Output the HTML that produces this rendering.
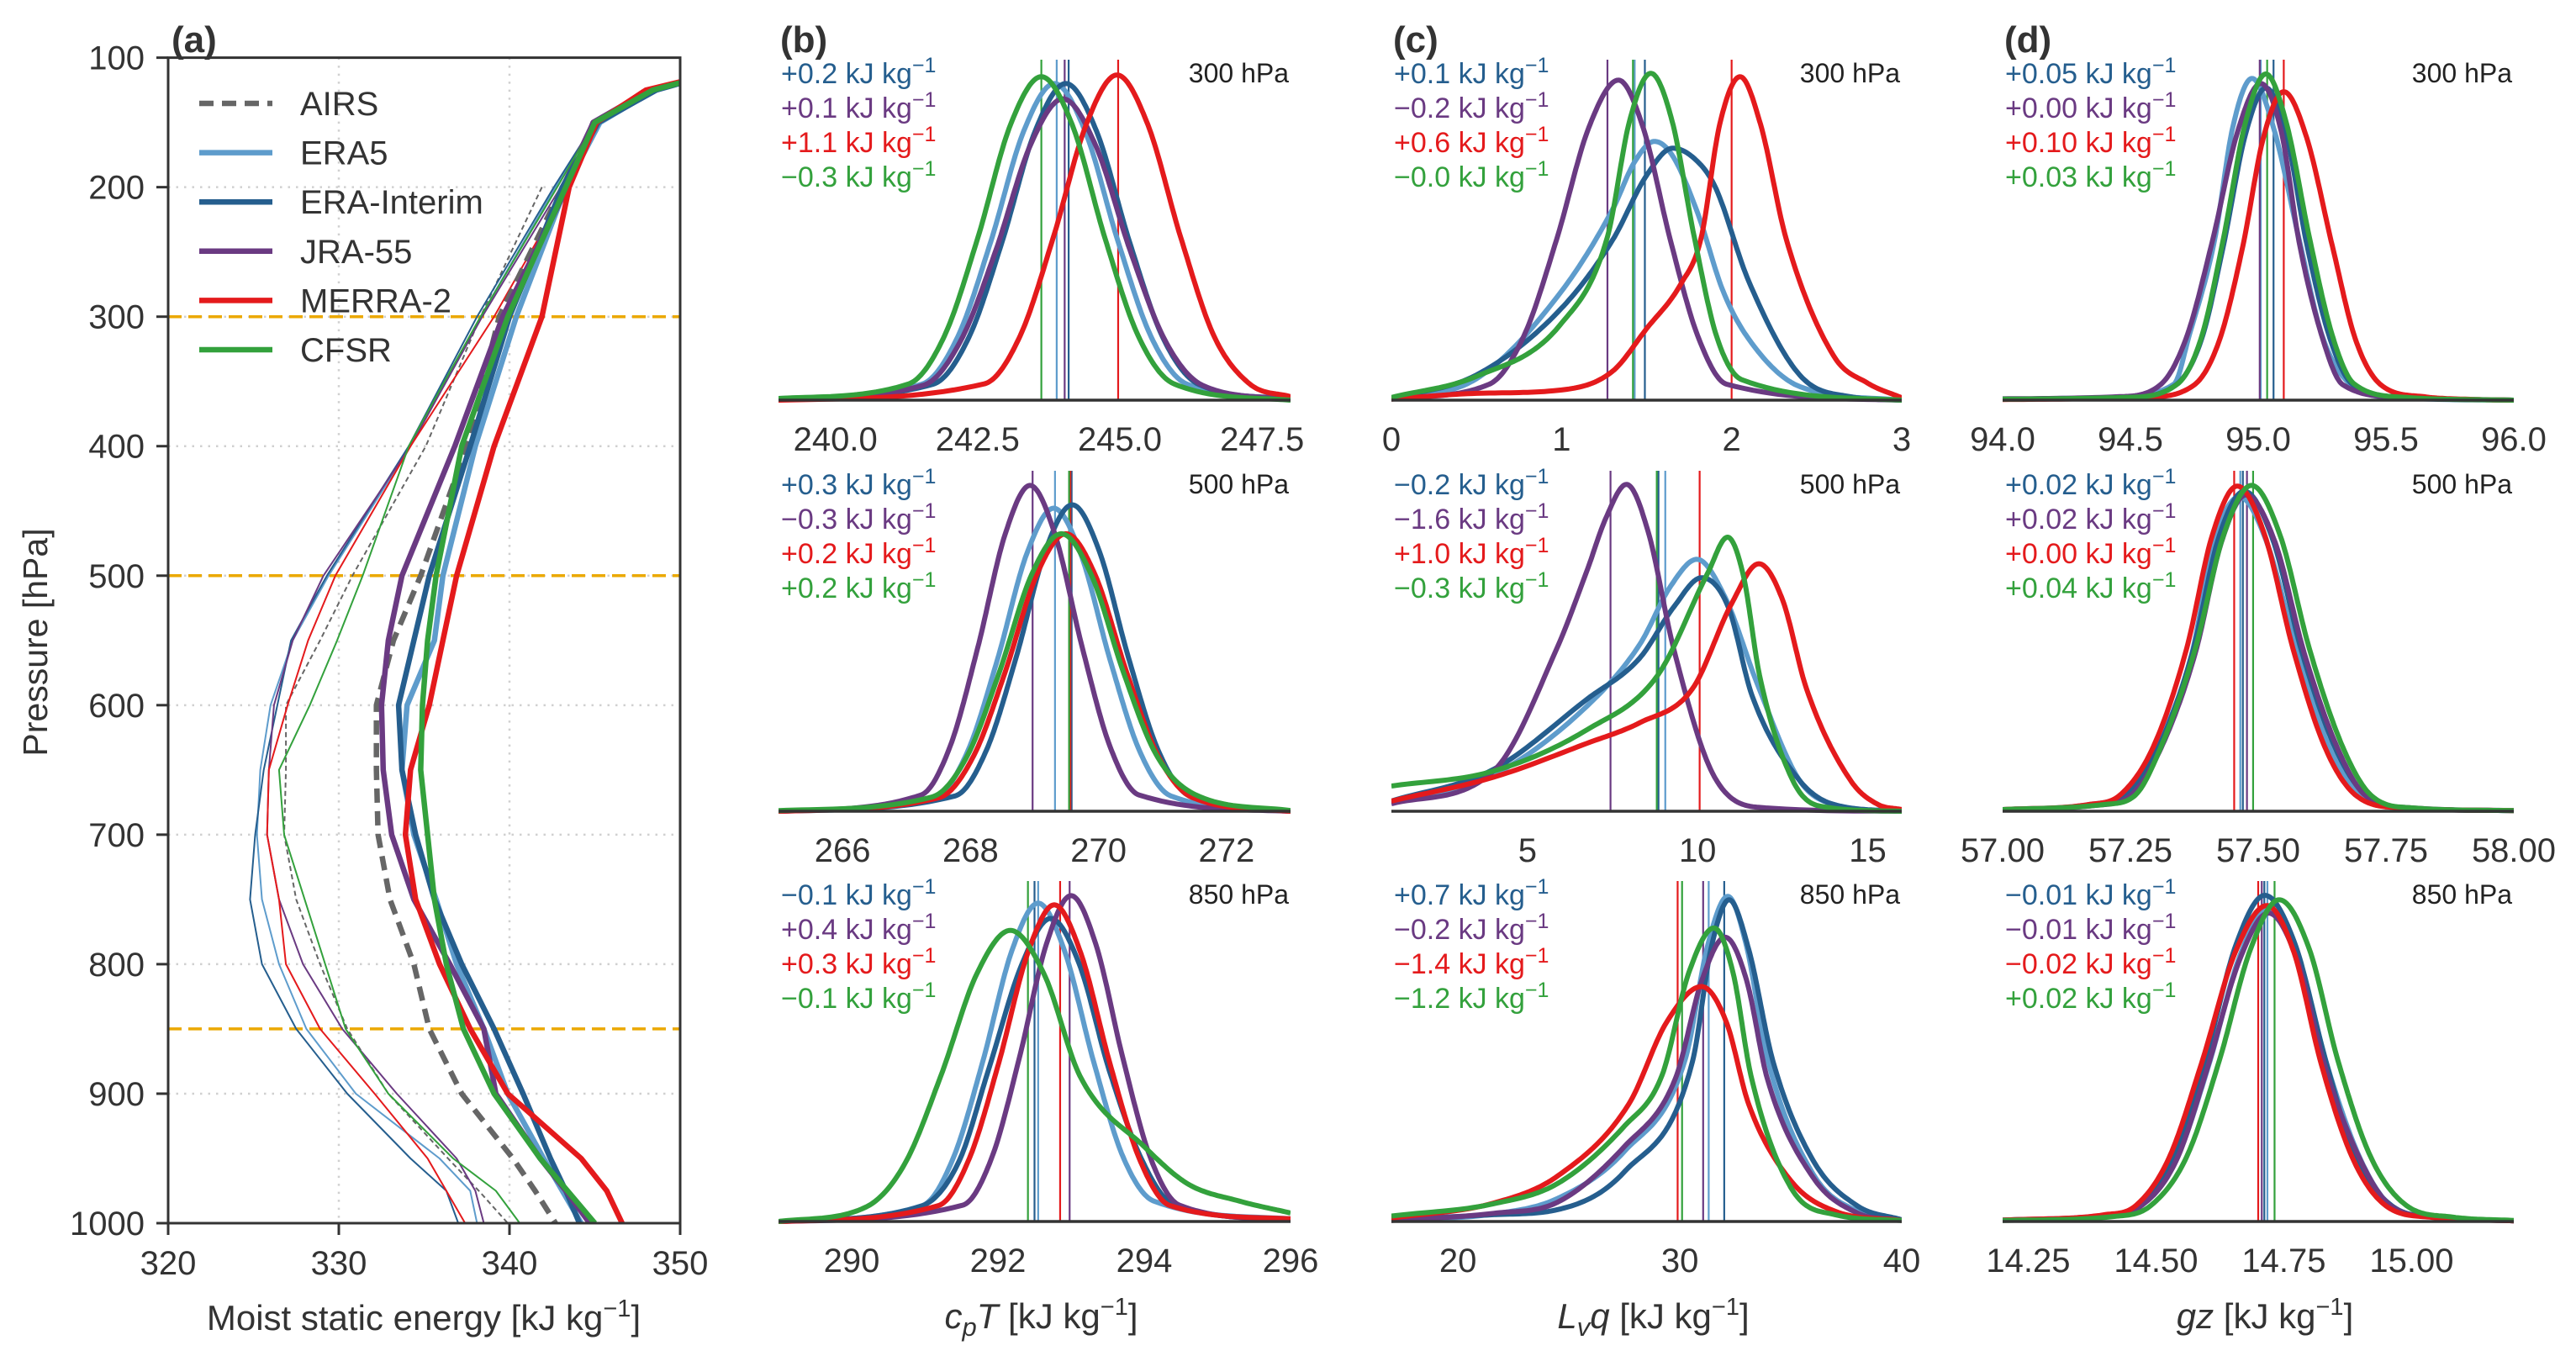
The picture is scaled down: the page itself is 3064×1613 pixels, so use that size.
<!DOCTYPE html>
<html><head><meta charset="utf-8">
<style>
html,body{margin:0;padding:0;background:#fff;}
svg{display:block;font-family:"Liberation Sans",Arial,sans-serif;}
</style></head>
<body>
<svg id="fig" xmlns="http://www.w3.org/2000/svg" width="3064" height="1613" viewBox="0 0 3064 1613"></svg>
<script>
// ---------- shared series info ----------
const seriesNames = ['ERA5','ERA-Interim','JRA-55','MERRA-2','CFSR'];
const seriesColors = ['#5e9ccc','#255e8e','#6a3a82','#e41a1c','#33a13c'];

// ---------- panel (a) data ----------
const levelsA = [118,125,150,200,300,400,500,550,600,650,700,750,800,850,900,950,975,1000];
const thickEra5  = [350.4,348.5,345.3,343.3,340.4,338.0,336.1,335.6,334.0,333.7,334.4,335.7,336.9,338.5,339.9,342.0,343.1,344.2];
const thickEraI  = [350.5,348.6,345.2,343.1,340.0,337.7,335.3,334.4,333.5,333.7,334.5,335.6,337.2,339.1,340.8,342.4,343.3,344.1];
const thickJra   = [350.3,348.2,344.9,343.4,339.6,336.8,333.7,332.9,332.5,332.6,333.1,334.4,336.5,338.5,339.2,341.8,343.3,344.7];
const thickMerra = [350.2,348.0,345.1,343.5,341.9,339.1,336.9,336.1,335.3,334.2,333.9,334.5,335.9,337.7,339.9,344.2,345.7,346.6];
const thickCfsr  = [350.4,348.4,345.0,343.3,339.9,337.2,335.7,335.2,334.9,334.8,335.2,335.6,336.3,337.3,339.1,341.8,343.4,345.0];
const thickAirs  = [null,null,null,343.1,339.4,337.5,334.8,333.2,332.2,332.2,332.3,333.0,334.4,335.3,337.2,340.2,341.5,342.7];
const thinEra5   = [350.3,348.3,345.0,342.7,338.3,334.2,329.4,327.3,326.0,325.4,325.2,325.5,326.5,328.1,331.0,335.9,337.7,338.1];
const thinEraI   = [350.4,348.4,345.0,342.6,338.1,334.1,329.3,327.2,326.4,325.6,325.1,324.8,325.5,327.5,330.5,334.2,336.3,337.0];
const thinJra    = [350.2,348.0,344.8,343.0,338.4,334.2,329.1,327.3,326.2,325.9,325.8,326.5,327.9,330.2,333.4,336.9,338.0,338.5];
const thinMerra  = [350.0,347.8,345.0,343.4,339.1,334.2,329.8,328.2,327.0,325.9,325.8,326.5,326.9,328.9,332.1,335.2,336.3,337.4];
const thinCfsr   = [350.3,348.2,345.0,342.8,338.3,334.1,331.4,329.9,328.3,326.5,326.8,328.0,329.2,330.4,332.9,336.7,339.2,340.6];
const thinAirs   = [null,null,null,341.9,338.3,335.1,330.8,328.9,326.9,326.9,326.8,327.5,328.9,330.5,332.9,336.4,338.2,339.9];
const xTicksA = [320,330,340,350];
const yTicksA = [100,200,300,400,500,600,700,800,900,1000];
const refLevelsA = [300,500,850];

// ---------- density panels: x/y points per series [ERA5, ERA-I, JRA-55, MERRA-2, CFSR] ----------
const b300X = [[239,241.52,242.15,242.73,243.31,243.85,244.39,244.97,245.55,246.18,248],[239,241.72,242.35,242.93,243.51,244.05,244.59,245.17,245.75,246.38,248],[239,241.55,242.21,242.82,243.43,244.0,244.57,245.18,245.79,246.45,248],[239,242.62,243.25,243.83,244.41,244.95,245.49,246.07,246.65,247.28,248],[239,241.29,241.92,242.5,243.08,243.62,244.16,244.74,245.32,245.95,248]];
const b300Y = [[0.005,0.047,0.186,0.465,0.79,0.93,0.79,0.465,0.186,0.047,0.005],[0.003,0.047,0.186,0.465,0.79,0.93,0.79,0.465,0.186,0.047,0.003],[0.003,0.044,0.177,0.44,0.75,0.885,0.75,0.44,0.177,0.044,0.003],[0,0.048,0.19,0.478,0.81,0.955,0.81,0.478,0.19,0.048,0.01],[0.005,0.048,0.19,0.475,0.81,0.95,0.81,0.475,0.19,0.048,0]];
const b300Mean = [243.89,244.10,244.03,244.97,243.62];
const b300Lab = ['+0.2','+0.1','+1.1','\u22120.3'];

const b500X = [[265,267.47,267.96,268.42,268.88,269.30,269.72,270.18,270.64,271.13,273],[265,267.76,268.25,268.71,269.17,269.59,270.01,270.47,270.93,271.42,273],[265,267.23,267.68,268.11,268.54,268.93,269.32,269.75,270.18,270.63,273],[265,267.51,268.05,268.54,269.03,269.49,269.95,270.44,270.93,271.47,273],[265,267.4,267.95,268.45,268.95,269.42,269.89,270.39,270.89,271.5,273]];
const b500Y = [[0,0.045,0.178,0.445,0.757,0.89,0.757,0.445,0.178,0.045,0],[0,0.045,0.18,0.45,0.765,0.90,0.765,0.45,0.18,0.045,0],[0,0.048,0.19,0.478,0.813,0.957,0.813,0.478,0.19,0.048,0],[0,0.04,0.163,0.408,0.693,0.815,0.693,0.408,0.163,0.04,0],[0.002,0.042,0.163,0.408,0.693,0.815,0.693,0.408,0.17,0.05,0.002]];
const b500Mean = [269.32,269.58,268.97,269.56,269.54];
const b500Lab = ['+0.3','\u22120.3','+0.2','+0.2'];

const b850X = [[289,290.97,291.39,291.79,292.19,292.55,292.91,293.31,293.71,294.13,296],[289,290.95,291.47,291.87,292.33,292.72,293.11,293.52,293.97,294.4,296],[289,291.52,291.92,292.29,292.66,293.0,293.34,293.71,294.08,294.48,296],[289,291.19,291.61,292.01,292.41,292.77,293.13,293.53,293.93,294.35,296],[289,290.2,290.73,291.22,291.71,292.17,292.63,293.12,294.0,294.6,295.3,296]];
const b850Y = [[0,0.047,0.187,0.468,0.795,0.935,0.795,0.468,0.19,0.06,0.008],[0,0.045,0.178,0.445,0.757,0.89,0.757,0.445,0.18,0.05,0.005],[0,0.048,0.19,0.478,0.813,0.957,0.813,0.478,0.19,0.048,0.005],[0,0.047,0.186,0.465,0.79,0.93,0.79,0.465,0.186,0.047,0.008],[0,0.043,0.171,0.428,0.727,0.855,0.727,0.428,0.22,0.11,0.06,0.025]];
const b850Mean = [292.55,292.50,292.98,292.85,292.41];
const b850Lab = ['\u22120.1','+0.4','+0.3','\u22120.1'];

const c300X = [[0,0.5,1.0,1.3,1.43,1.546,1.65,1.8,1.95,2.1,2.4,3],[0,0.5,1.0,1.3,1.5,1.653,1.78,1.9,2.1,2.4,2.7,3],[0,0.576,0.78,0.97,1.16,1.335,1.48,1.64,1.8,1.97,3],[0,0.5,1.0,1.3,1.5,1.7,1.82,1.93,2.05,2.17,2.32,2.6,2.8,3],[0,0.5,0.99,1.27,1.40,1.525,1.65,1.78,1.91,2.06,3]];
const c300Y = [[0.005,0.063,0.32,0.56,0.7,0.76,0.72,0.55,0.32,0.18,0.04,0],[0.005,0.074,0.27,0.47,0.66,0.74,0.71,0.63,0.35,0.074,0.01,0],[0.005,0.047,0.19,0.47,0.8,0.94,0.8,0.47,0.19,0.047,0],[0.003,0.02,0.03,0.085,0.21,0.34,0.475,0.81,0.95,0.81,0.475,0.13,0.05,0.007],[0.008,0.07,0.22,0.48,0.82,0.96,0.82,0.48,0.19,0.06,0]];
const c300Mean = [1.43,1.49,1.27,2.0,1.42];
const c300Lab = ['+0.1','\u22120.2','+0.6','\u22120.0'];

const c500X = [[1,4,6.76,8.3,9.2,9.98,10.8,11.77,13,14,16],[1,4,6.76,8.3,9.3,10.12,10.9,11.6,13,14,16],[1,4,5.87,6.76,7.3,7.91,8.55,9.29,10.5,12,16],[1,4,6.76,8.3,9.85,11.0,11.8,12.5,13.2,14.5,15.3,16],[1,4,6.76,8.83,10.3,10.88,11.35,11.82,12.8,13.6,16]];
const c500Y = [[0.024,0.107,0.31,0.49,0.66,0.74,0.63,0.37,0.09,0.02,0],[0.03,0.123,0.33,0.45,0.6,0.686,0.6,0.34,0.09,0.02,0],[0.022,0.118,0.48,0.71,0.86,0.96,0.82,0.48,0.1,0.01,0],[0.03,0.10,0.2,0.26,0.36,0.61,0.727,0.62,0.36,0.09,0.02,0.005],[0.074,0.118,0.24,0.40,0.7,0.805,0.69,0.40,0.09,0.015,0]];
const c500Mean = [9.05,8.85,7.44,10.06,8.80];
const c500Lab = ['\u22120.2','\u22121.6','+1.0','\u22120.3'];

const c850X = [[17,21.6,24.5,27.5,30.25,31.25,32.16,33.0,33.95,36,38,40],[17,21.6,24.5,27.5,30.57,31.4,32.22,33.1,34.2,36,38,40],[17,21.6,24.5,27.5,29.8,31.0,32.04,33.0,33.94,36,38,40],[17,21.6,24.5,27.7,29.4,30.98,32.1,33.1,35,37,40],[17,21.6,24.5,27.5,29.2,30.4,31.54,32.4,33.2,35,37,40]];
const c850Y = [[0.004,0.022,0.068,0.206,0.478,0.81,0.955,0.81,0.478,0.14,0.03,0.005],[0.005,0.02,0.035,0.146,0.47,0.8,0.945,0.8,0.47,0.18,0.046,0.005],[0.003,0.024,0.057,0.22,0.42,0.71,0.835,0.71,0.42,0.13,0.025,0.003],[0.01,0.054,0.134,0.345,0.585,0.69,0.585,0.345,0.12,0.03,0.003],[0.016,0.052,0.112,0.28,0.43,0.73,0.862,0.73,0.43,0.1,0.02,0.003]];
const c850Mean = [31.3,32.0,31.05,29.9,30.1];
const c850Lab = ['+0.7','\u22120.2','\u22121.4','\u22121.2'];

const d300X = [[94,94.43,94.67,94.73,94.83,94.9,94.976,95.06,95.16,95.25,95.36,95.53,96],[94,94.48,94.68,94.78,94.865,94.95,95.03,95.11,95.19,95.28,95.37,95.58,96],[94,94.45,94.62,94.72,94.82,94.92,95.01,95.09,95.16,95.25,95.33,95.56,96],[94,94.55,94.75,94.85,94.94,95.02,95.10,95.19,95.29,95.38,95.48,95.65,95.85,96],[94,94.48,94.685,94.78,94.865,94.95,95.03,95.11,95.2,95.29,95.375,95.58,96]];
const d300Y = [[0.003,0.008,0.047,0.19,0.473,0.8,0.945,0.8,0.473,0.19,0.047,0.008,0],[0.003,0.008,0.046,0.183,0.458,0.78,0.917,0.78,0.458,0.183,0.046,0.008,0],[0.004,0.01,0.047,0.186,0.465,0.79,0.93,0.79,0.465,0.186,0.046,0.008,0],[0.002,0.008,0.045,0.18,0.453,0.77,0.906,0.77,0.453,0.18,0.045,0.01,0.002,0],[0.003,0.008,0.048,0.19,0.479,0.815,0.958,0.815,0.479,0.19,0.048,0.008,0]];
const d300Mean = [95.01,95.06,95.006,95.10,95.035];
const d300Lab = ['+0.05','+0.00','+0.10','+0.03'];

const d500X = [[57,57.17,57.23,57.3,57.37,57.413,57.463,57.518,57.577,57.64,57.7,57.78,58],[57,57.17,57.24,57.305,57.372,57.422,57.473,57.528,57.585,57.65,57.71,57.79,58],[57,57.18,57.25,57.31,57.377,57.428,57.476,57.533,57.59,57.655,57.71,57.8,58],[57,57.17,57.23,57.295,57.36,57.41,57.459,57.513,57.568,57.63,57.69,57.78,58],[57,57.2,57.26,57.31,57.377,57.432,57.487,57.543,57.6,57.665,57.72,57.8,58]];
const d500Y = [[0.005,0.02,0.046,0.185,0.462,0.785,0.924,0.785,0.462,0.185,0.046,0.01,0.002],[0.004,0.018,0.047,0.188,0.47,0.8,0.94,0.8,0.47,0.188,0.047,0.01,0.002],[0.004,0.017,0.046,0.186,0.465,0.79,0.929,0.79,0.465,0.186,0.046,0.01,0.002],[0.005,0.02,0.048,0.19,0.478,0.81,0.955,0.81,0.478,0.19,0.048,0.01,0.002],[0.005,0.02,0.048,0.19,0.478,0.81,0.957,0.81,0.478,0.19,0.048,0.01,0.002]];
const d500Mean = [57.465,57.47,57.478,57.453,57.49];
const d500Lab = ['+0.02','+0.02','+0.00','+0.04'];

const d850X = [[14.2,14.4,14.47,14.54,14.603,14.664,14.72,14.778,14.835,14.9,14.96,15.05,15.2],[14.2,14.4,14.47,14.535,14.597,14.657,14.713,14.772,14.831,14.89,14.96,15.05,15.2],[14.2,14.4,14.47,14.54,14.601,14.664,14.72,14.776,14.831,14.9,14.96,15.05,15.2],[14.2,14.4,14.46,14.525,14.589,14.655,14.717,14.77,14.823,14.885,14.95,15.04,15.2],[14.2,14.42,14.49,14.56,14.624,14.685,14.741,14.8,14.856,14.92,14.99,15.08,15.2]];
const d850Y = [[0.004,0.018,0.046,0.183,0.458,0.78,0.917,0.78,0.458,0.183,0.046,0.012,0.002],[0.004,0.018,0.048,0.19,0.479,0.815,0.958,0.815,0.479,0.19,0.048,0.012,0.002],[0.004,0.019,0.045,0.18,0.453,0.77,0.906,0.77,0.453,0.18,0.045,0.012,0.002],[0.004,0.02,0.046,0.185,0.464,0.79,0.928,0.79,0.464,0.185,0.046,0.012,0.002],[0.003,0.015,0.047,0.19,0.473,0.8,0.945,0.8,0.473,0.19,0.047,0.013,0.003]];
const d850Mean = [14.718,14.712,14.707,14.70,14.732];
const d850Lab = ['\u22120.01','\u22120.01','\u22120.02','+0.02'];

const bTickVals = [[240,242.5,245,247.5],[266,268,270,272],[290,292,294,296]];
const bTickLabs = [['240.0','242.5','245.0','247.5'],['266','268','270','272'],['290','292','294','296']];
const cTickVals = [[0,1,2,3],[5,10,15],[20,30,40]];
const cTickLabs = [['0','1','2','3'],['5','10','15'],['20','30','40']];
const dTickVals = [[94,94.5,95,95.5,96],[57,57.25,57.5,57.75,58],[14.25,14.5,14.75,15.0]];
const dTickLabs = [['94.0','94.5','95.0','95.5','96.0'],['57.00','57.25','57.50','57.75','58.00'],['14.25','14.50','14.75','15.00']];
const levelLabels = ['300 hPa','500 hPa','850 hPa'];

// ---------- helpers ----------
const NS = 'http://www.w3.org/2000/svg';
const svg = document.getElementById('fig');
function mk(tag, attrs, parent){
  const e = document.createElementNS(NS, tag);
  for (const k in attrs) e.setAttribute(k, attrs[k]);
  (parent||svg).appendChild(e);
  return e;
}
function monoPath(xs, ys, sx, sy){
  const n = xs.length, d = [], m = new Array(n);
  for (let i=0;i<n-1;i++) d.push((ys[i+1]-ys[i])/(xs[i+1]-xs[i]));
  m[0]=d[0]; m[n-1]=d[n-2];
  for (let i=1;i<n-1;i++){ m[i] = (d[i-1]*d[i]<=0)?0:(d[i-1]+d[i])/2; }
  for (let i=0;i<n-1;i++){
    if (d[i]===0){m[i]=0;m[i+1]=0;continue;}
    const a=m[i]/d[i], b=m[i+1]/d[i], s=a*a+b*b;
    if (s>9){const t=3/Math.sqrt(s); m[i]=t*a*d[i]; m[i+1]=t*b*d[i];}
  }
  let p = '';
  for (let i=0;i<n-1;i++){
    const h = xs[i+1]-xs[i];
    for (let k=0;k<=20;k++){
      if (i>0 && k===0) continue;
      const t=k/20, t2=t*t, t3=t2*t;
      const y = (2*t3-3*t2+1)*ys[i] + (t3-2*t2+t)*h*m[i] + (-2*t3+3*t2)*ys[i+1] + (t3-t2)*h*m[i+1];
      const x = xs[i]+t*h;
      p += (p?' L':'M') + sx(x).toFixed(1) + ',' + sy(Math.max(0,y)).toFixed(1);
    }
  }
  return p;
}
const TXT = '#333333';

// ---------- panel (a) ----------
(function(){
  const X0=200, X1=809, Y0=68.6, Y1=1455;
  const sx = v => X0 + (v-320)*(X1-X0)/30;
  const sy = p => Y0 + (p-100)*(Y1-Y0)/900;
  const g = mk('g', {});
  
  
  const cp = mk('clipPath',{id:'clipA'},g);
  mk('rect',{x:X0,y:Y0,width:X1-X0,height:Y1-Y0},cp);
  xTicksA.forEach(v=>{ if(v>320&&v<350){ const l=mk('line',{x1:sx(v),x2:sx(v),y1:Y0,y2:Y1,stroke:'#d0d0d0','stroke-width':2.5,'stroke-dasharray':'2.5,7'},g);
    
     }});
  yTicksA.forEach(p=>{ if(p>100&&p<1000){ const l=mk('line',{x1:X0,x2:X1,y1:sy(p),y2:sy(p),stroke:'#d0d0d0','stroke-width':2.5,'stroke-dasharray':'2.5,7'},g);
    
     }});
  refLevelsA.forEach(p=>{ const l=mk('line',{x1:X0,x2:X1,y1:sy(p),y2:sy(p),stroke:'#eba800','stroke-width':3.5,'stroke-dasharray':'16,8'},g);
    
     });
  const lg = mk('g',{'clip-path':'url(#clipA)'},g);
  function prof(vals, color, w, dash, name){
    let d='';
    vals.forEach((v,i)=>{ if(v===null) return; d += (d?' L':'M') + sx(v).toFixed(1)+','+sy(levelsA[i]).toFixed(1); });
    const a = {d:d,fill:'none',stroke:color,'stroke-width':w,'stroke-linejoin':'round'};
    if (dash) a['stroke-dasharray']=dash;
    const e = mk('path',a,lg);
    
    
  }
  const thin = [thinEra5,thinEraI,thinJra,thinMerra,thinCfsr];
  const thick = [thickEra5,thickEraI,thickJra,thickMerra,thickCfsr];
  prof(thinAirs,'#666666',2,'6,4','airs-thin-profile');
  thin.forEach((s,i)=>prof(s,seriesColors[i],2,null,'thin-profile-'+seriesNames[i].toLowerCase()));
  prof(thickAirs,'#666666',6.5,'17,10','airs-profile');
  thick.forEach((s,i)=>prof(s,seriesColors[i],6.5,null,'profile-'+seriesNames[i].toLowerCase()));
  const fr = mk('rect',{x:X0,y:Y0,width:X1-X0,height:Y1-Y0,fill:'none',stroke:'#333','stroke-width':3},g);
  
  
  yTicksA.forEach(p=>{
    mk('line',{x1:X0-14,x2:X0,y1:sy(p),y2:sy(p),stroke:'#333','stroke-width':3},g);
    const t=mk('text',{x:172,y:sy(p)+14,'text-anchor':'end','font-size':40,fill:TXT},g); t.textContent=p;
    
    
  });
  xTicksA.forEach(v=>{
    mk('line',{x1:sx(v),x2:sx(v),y1:Y1,y2:Y1+14,stroke:'#333','stroke-width':3},g);
    const t=mk('text',{x:sx(v),y:1516,'text-anchor':'middle','font-size':40,fill:TXT},g); t.textContent=v;
    
    
  });
  const yt = mk('text',{x:0,y:0,transform:'translate(56,764) rotate(-90)','text-anchor':'middle','font-size':41,fill:TXT},g);
  yt.textContent='Pressure [hPa]';
  
  
  const xt = mk('text',{x:504,y:1582,'text-anchor':'middle','font-size':42,fill:TXT},g);
  
  
  xt.appendChild(document.createTextNode('Moist static energy [kJ kg'));
  const sp = mk('tspan',{dy:-16,'font-size':29},xt); sp.textContent='\u22121';
  const sp2 = mk('tspan',{dy:16},xt); sp2.textContent=']';
  const pl = mk('text',{x:204,y:62,'font-size':44,'font-weight':'bold',fill:TXT},g); pl.textContent='(a)';
  
  
  const legNames = ['AIRS'].concat(seriesNames);
  const legColors = ['#666666'].concat(seriesColors);
  legNames.forEach((n,i)=>{
    const y = 123 + i*58.6;
    const lgE = mk('g',{},g);
    
    
    const a = {x1:237,x2:324,y1:y,y2:y,stroke:legColors[i],'stroke-width':6.5};
    if (i===0) a['stroke-dasharray']='17,10';
    mk('line',a,lgE);
    const t = mk('text',{x:357,y:y+14,'font-size':40,fill:TXT},lgE); t.textContent=n;
  });
})();

// ---------- density panels ----------
const colX = [[926,1535],[1655,2262],[2382,2990]];
const rowBase = [476,965,1453];
const AXH = 405;
const panelSets = [
  {letter:'b', rows:[[b300X,b300Y,b300Mean,b300Lab,[239,248]],[b500X,b500Y,b500Mean,b500Lab,[265,273]],[b850X,b850Y,b850Mean,b850Lab,[289,296]]], tv:bTickVals, tl:bTickLabs, title:['c','p','T']},
  {letter:'c', rows:[[c300X,c300Y,c300Mean,c300Lab,[0,3]],[c500X,c500Y,c500Mean,c500Lab,[1,16]],[c850X,c850Y,c850Mean,c850Lab,[17,40]]], tv:cTickVals, tl:cTickLabs, title:['L','v','q']},
  {letter:'d', rows:[[d300X,d300Y,d300Mean,d300Lab,[94,96]],[d500X,d500Y,d500Mean,d500Lab,[57,58]],[d850X,d850Y,d850Mean,d850Lab,[14.2,15.2]]], tv:dTickVals, tl:dTickLabs, title:['gz','','']}
];
const labColorsIdx = [1,2,3,4];
panelSets.forEach((P,ci)=>{
  const [X0,X1] = colX[ci];
  const pg = mk('g',{});
  
  
  P.rows.forEach((R,ri)=>{
    const [xsA, ysA, means, labs, rng] = R;
    const base = rowBase[ri];
    const sx = v => X0 + (v-rng[0])*(X1-X0)/(rng[1]-rng[0]);
    const sy = f => base - f*AXH;
    const sg = mk('g',{},pg);
    
    
    const cid = 'clip'+P.letter+ri;
    const cp = mk('clipPath',{id:cid},sg);
    mk('rect',{x:X0,y:base-AXH,width:X1-X0,height:AXH+4},cp);
    const cg = mk('g',{'clip-path':'url(#'+cid+')'},sg);
    means.forEach((m,i)=>{
      const l = mk('line',{x1:sx(m),x2:sx(m),y1:base,y2:base-AXH,stroke:seriesColors[i],'stroke-width':2.2},cg);
      
      
    });
    xsA.forEach((xs,i)=>{
      const c = mk('path',{d:monoPath(xs,ysA[i],sx,sy),fill:'none',stroke:seriesColors[i],'stroke-width':6,'stroke-linejoin':'round'},cg);
      
      
    });
    const bl = mk('line',{x1:X0,x2:X1,y1:base,y2:base,stroke:'#333','stroke-width':3.5},sg);
    
    
    P.tv[ri].forEach((v,k)=>{
      const t = mk('text',{x:sx(v),y:base+60,'text-anchor':'middle','font-size':40,fill:TXT},sg);
      t.textContent = P.tl[ri][k];
      
      
    });
    const hl = mk('text',{x:X1-2,y:base-389+11,'text-anchor':'end','font-size':32,fill:'#222'},sg);
    hl.textContent = levelLabels[ri];
    
    
    labs.forEach((s,k)=>{
      const y = base - 389 + k*41 + 12;
      const t = mk('text',{x:X0+3,y:y,'font-size':34,fill:seriesColors[labColorsIdx[k]]},sg);
      
      
      t.appendChild(document.createTextNode(s+' kJ kg'));
      const sp = mk('tspan',{dy:-13,'font-size':25},t); sp.textContent='\u22121';
    });
  });
  const pl = mk('text',{x:X0+2,y:62,'font-size':44,'font-weight':'bold',fill:TXT},pg);
  pl.textContent='('+P.letter+')';
  
  
  const cx = (X0+X1)/2 + 8;
  const xt = mk('text',{x:cx,y:1580,'text-anchor':'middle','font-size':42,fill:TXT},pg);
  
  
  const t1 = mk('tspan',{'font-style':'italic'},xt); t1.textContent=P.title[0];
  if (P.title[1]) { const t2 = mk('tspan',{'font-style':'italic','font-size':31,dy:9},xt); t2.textContent=P.title[1];
    const t3 = mk('tspan',{'font-style':'italic',dy:-9},xt); t3.textContent=P.title[2]; }
  const t4 = mk('tspan',{},xt); t4.textContent=' [kJ kg';
  const t5 = mk('tspan',{dy:-16,'font-size':29},xt); t5.textContent='\u22121';
  const t6 = mk('tspan',{dy:16},xt); t6.textContent=']';
});
</script>
</body></html>
